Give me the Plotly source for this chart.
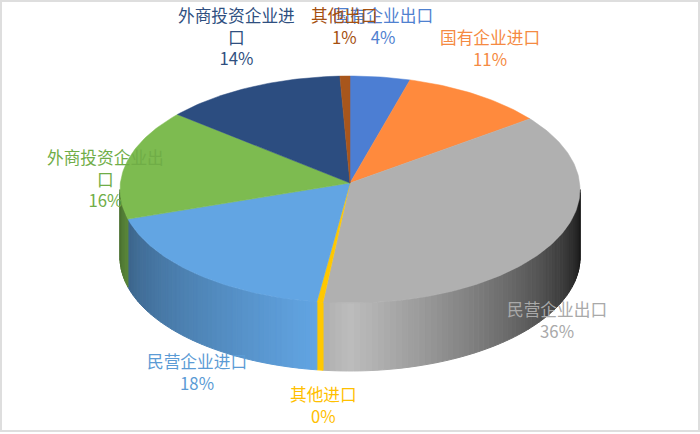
import numpy as np
import plotly.graph_objects as go

categories = ["国有企业出口", "国有企业进口", "民营企业出口", "其他进口",
              "民营企业进口", "外商投资企业出口", "外商投资企业进口", "其他出口"]
# percentages as printed on the chart
percent_labels = [4, 11, 36, 0, 18, 16, 14, 1]
# slice sizes as they come out on the tilted disc, measured along the rim
drawn_shares = [4.2, 10.1, 37.57, 0.43, 18.5, 15.7, 12.8, 0.7]

colors = ["#4C7ED3", "#FF8A3D", "#B0B0B0", "#FFC800", "#62A5E3", "#7DBB50", "#2C4D80", "#A8561C"]
label_colors = ["#4F81D0", "#F58A42", "#A9A9A9", "#FFC000", "#5B9BD5", "#70AD47", "#2F4F80", "#A5500F"]
# side wall brightness, at the front end of the slice and at its outer end
wall_near = [1, 1, 1.0, 1.0, 1.0, 0.72, 1, 1]
wall_far = [1, 1, 0.1, 1.0, 0.62, 0.6, 1, 1]
label_x = [383, 489.5, 557, 323, 197, 105, 236, 344]
label_y = [26, 48, 320, 405, 372, 178, 36, 26]

cx, cy = 350, 189.5
apex_y = 183
rx, ry = 230, 113.5
depth = 68


def rim(theta):
    a = np.radians(theta)
    return cx + rx * np.sin(a), cy - ry * np.cos(a)


def shade(color, k):
    r, g, b = int(color[1:3], 16), int(color[3:5], 16), int(color[5:7], 16)
    return f"rgb({int(r * k)},{int(g * k)},{int(b * k)})"


def wrap(name, width=7):
    return "<br>".join(name[i:i + width] for i in range(0, len(name), width))


edges = np.cumsum([0] + drawn_shares) / sum(drawn_shares) * 360
fig = go.Figure()

# side walls, only the front half of the disc shows
for i, color in enumerate(colors):
    start, stop = max(edges[i], 90), min(edges[i + 1], 270)
    if stop <= start:
        continue
    n = max(1, int((stop - start) / 1.5))
    steps = np.linspace(start, stop, n + 1)
    # front of the disc (180 deg) is the bright end
    span_start = abs(start - 180)
    span_stop = abs(stop - 180)
    low, high = min(span_start, span_stop), max(span_start, span_stop)
    for j in range(n):
        mid = (steps[j] + steps[j + 1]) / 2
        t = (abs(mid - 180) - low) / max(high - low, 1e-6)
        fill = shade(color, wall_near[i] + (wall_far[i] - wall_near[i]) * t)
        x0, y0 = rim(steps[j])
        x1, y1 = rim(steps[j + 1])
        fig.add_trace(go.Scatter(x=[x0, x1, x1, x0, x0], y=[y0, y1, y1 + depth, y0 + depth, y0],
                                 mode="lines", fill="toself", fillcolor=fill,
                                 line=dict(color=fill, width=1), hoverinfo="skip"))

# top face
for i, color in enumerate(colors):
    thetas = np.linspace(edges[i], edges[i + 1], max(3, int(edges[i + 1] - edges[i]) + 2))
    xs, ys = rim(thetas)
    fig.add_trace(go.Scatter(x=[cx, *xs, cx], y=[apex_y, *ys, apex_y], mode="lines", fill="toself",
                             fillcolor=color, line=dict(color=color, width=0.5),
                             name=categories[i], hoverinfo="name"))

for i, name in enumerate(categories):
    fig.add_annotation(x=label_x[i], y=label_y[i], text=f"{wrap(name)}<br>{percent_labels[i]}%",
                       showarrow=False, align="center",
                       font=dict(family="Noto Sans CJK SC", size=16.7, color=label_colors[i]))

fig.add_shape(type="rect", x0=1, y0=1, x1=699, y1=431, line=dict(color="#DEDEDE", width=2))

fig.update_layout(width=700, height=434, margin=dict(l=0, r=0, t=0, b=0), showlegend=False,
                  paper_bgcolor="white", plot_bgcolor="white",
                  xaxis=dict(range=[0, 700], visible=False),
                  yaxis=dict(range=[434, 0], visible=False))
fig.write_html("out.html", config=dict(displayModeBar=False),
               post_script="document.body.style.margin='0';")
